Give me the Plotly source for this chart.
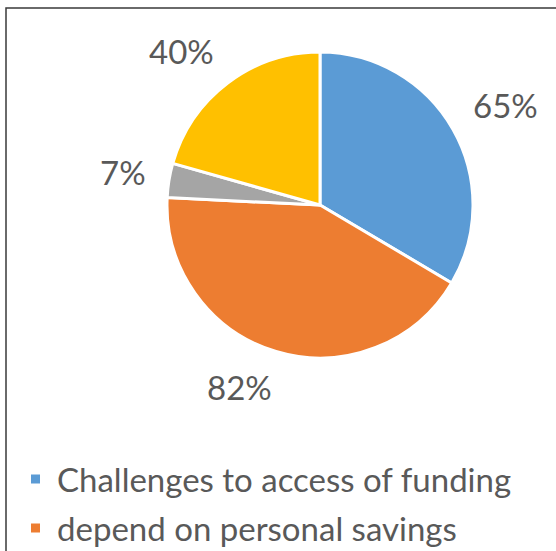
import math
import plotly.graph_objects as go

# Survey shares (percent of respondents) for each slice, clockwise from 12 o'clock
values = [65, 82, 7, 40]
colors = ["#5B9BD5", "#ED7D31", "#A5A5A5", "#FFC000"]
legend_names = ["Challenges to access of funding", "depend on personal savings"]

W, H = 556, 551
CX, CY, R = 320, 205, 153          # pie centre and radius in pixels
FONT = "Lato, Carlito, Calibri, sans-serif"
TXT = "#595959"
LABEL_SIZE = 33


def px(x):
    return x / W


def py(y):
    return 1 - y / H


def clamp(v, lo=-1.0, hi=1.0):
    return max(lo, min(hi, v))


fig = go.Figure(
    go.Pie(
        values=values,
        marker=dict(colors=colors, line=dict(color="white", width=3)),
        sort=False,
        direction="clockwise",
        rotation=0,
        textinfo="none",
        hoverinfo="value",
        showlegend=False,
        domain=dict(x=[px(CX - R), px(CX + R)], y=[py(CY + R), py(CY - R)]),
    )
)

# Value labels: the label's nearest corner sits a fixed distance beyond the rim,
# along the slice's mid-angle
annotations = []
total = sum(values)
start = 0.0
reach = R + 25
for v in values:
    span = 360.0 * v / total
    mid = math.radians(start + span / 2)
    start += span
    s, c = math.sin(mid), math.cos(mid)
    text = f"{v}%"
    w = LABEL_SIZE * (0.58 * (len(text) - 1) + 0.71)
    h = LABEL_SIZE * 0.72
    ax, ay = CX + reach * s, CY - reach * c
    fx, fy = clamp(s / 0.3), clamp(-c / 0.5)
    cx_t, cy_t = ax + fx * w / 2, ay + fy * h / 2
    annotations.append(dict(
        x=px(cx_t), y=py(cy_t), xref="paper", yref="paper",
        text=text, showarrow=False, xanchor="center", yanchor="middle",
        font=dict(family=FONT, size=LABEL_SIZE, color=TXT),
    ))

# Legend rows: colour swatch plus category name
shapes = []
row0, row_step = 479, 49
for i, name in enumerate(legend_names):
    yc = row0 + i * row_step
    shapes.append(dict(
        type="rect", xref="paper", yref="paper",
        x0=px(31), x1=px(40), y0=py(yc + 4.5), y1=py(yc - 4.5),
        fillcolor=colors[i], line=dict(width=0),
    ))
    annotations.append(dict(
        x=px(55), y=py(yc), xref="paper", yref="paper",
        text=name, showarrow=False, xanchor="left", yanchor="middle",
        font=dict(family=FONT, size=LABEL_SIZE, color=TXT),
    ))

# Chart-area frame
shapes.append(dict(
    type="rect", xref="paper", yref="paper",
    x0=px(6), x1=px(W + 20), y0=py(H + 20), y1=py(8),
    line=dict(color="#3a3a3a", width=1.5), fillcolor="rgba(0,0,0,0)",
))

fig.update_layout(
    width=W, height=H,
    margin=dict(l=0, r=0, t=0, b=0),
    paper_bgcolor="white", plot_bgcolor="white",
    annotations=annotations, shapes=shapes,
    showlegend=False,
)

fig.write_html("out.html")
